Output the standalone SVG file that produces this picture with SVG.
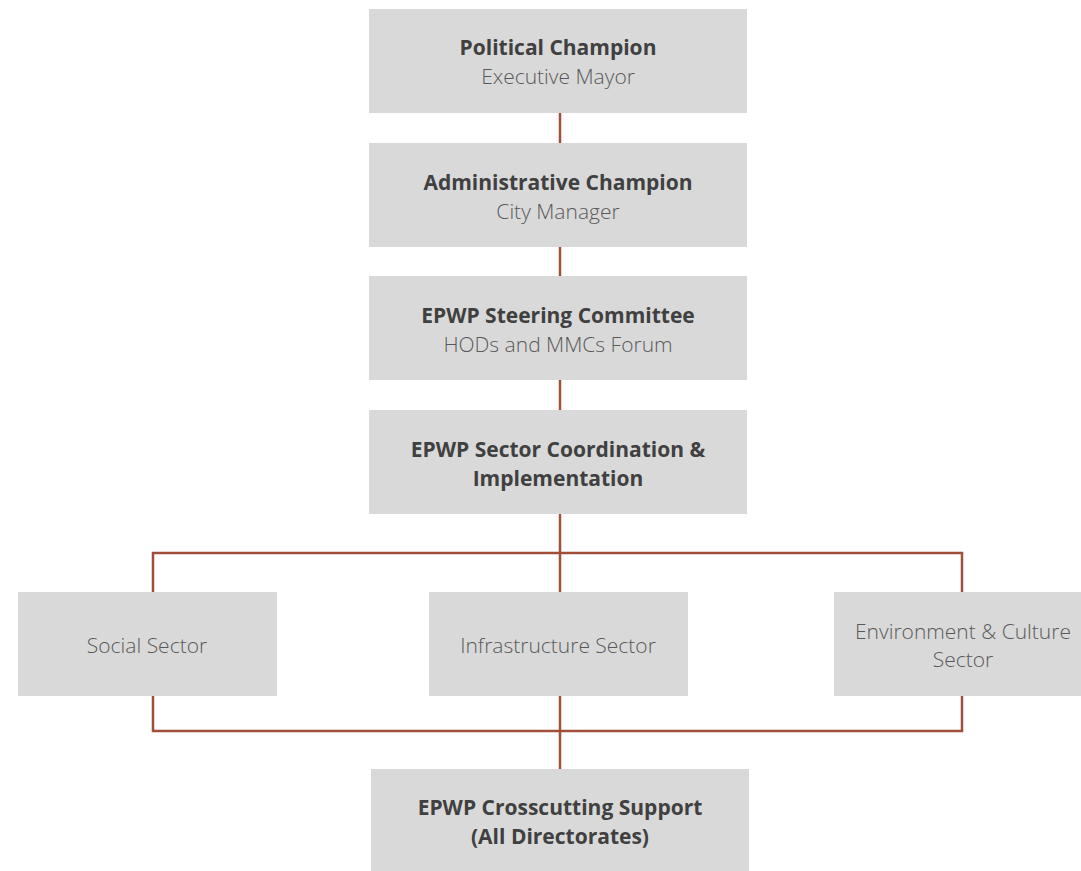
<svg xmlns="http://www.w3.org/2000/svg" width="1081" height="871" viewBox="0 0 1081 871">
<style>
.box{fill:#d9d9d9}
.b{font-family:"Open Sans","Liberation Sans",sans-serif;font-size:21px;font-weight:bold;fill:#404040;text-anchor:middle}
.r{font-family:"Open Sans","Liberation Sans",sans-serif;font-size:21px;font-weight:300;fill:#595959;text-anchor:middle}
.c{stroke:#a0503a;stroke-width:2.5;fill:none}
</style>
<rect width="1081" height="871" fill="#ffffff"/>
<g id="connectors">
<line class="c" x1="560" y1="113" x2="560" y2="143"/>
<line class="c" x1="560" y1="247" x2="560" y2="276"/>
<line class="c" x1="560" y1="380" x2="560" y2="410"/>
<line class="c" x1="560" y1="514" x2="560" y2="769"/>
<polyline class="c" points="153,592 153,553 962,553 962,592"/>
<polyline class="c" points="153,696 153,731 962,731 962,696"/>
</g>
<g id="political">
<rect class="box" x="369" y="9" width="378" height="104"/>
<text class="b" x="558" y="55">Political Champion</text>
<text class="r" x="558" y="84">Executive Mayor</text>
</g>
<g id="administrative">
<rect class="box" x="369" y="143" width="378" height="104"/>
<text class="b" x="558" y="190">Administrative Champion</text>
<text class="r" x="558" y="219">City Manager</text>
</g>
<g id="steering">
<rect class="box" x="369" y="276" width="378" height="104"/>
<text class="b" x="558" y="323">EPWP Steering Committee</text>
<text class="r" x="558" y="352">HODs and MMCs Forum</text>
</g>
<g id="coordination">
<rect class="box" x="369" y="410" width="378" height="104"/>
<text class="b" x="558" y="457">EPWP Sector Coordination &amp;</text>
<text class="b" x="558" y="486">Implementation</text>
</g>
<g id="social">
<rect class="box" x="18" y="592" width="259" height="104"/>
<text class="r" x="147" y="653">Social Sector</text>
</g>
<g id="infrastructure">
<rect class="box" x="429" y="592" width="259" height="104"/>
<text class="r" x="558" y="653">Infrastructure Sector</text>
</g>
<g id="environment">
<rect class="box" x="834" y="592" width="247" height="104"/>
<text class="r" x="963" y="639">Environment &amp; Culture</text>
<text class="r" x="963" y="667">Sector</text>
</g>
<g id="crosscutting">
<rect class="box" x="371" y="769" width="378" height="102"/>
<text class="b" x="560" y="815">EPWP Crosscutting Support</text>
<text class="b" x="560" y="844">(All Directorates)</text>
</g>
</svg>
